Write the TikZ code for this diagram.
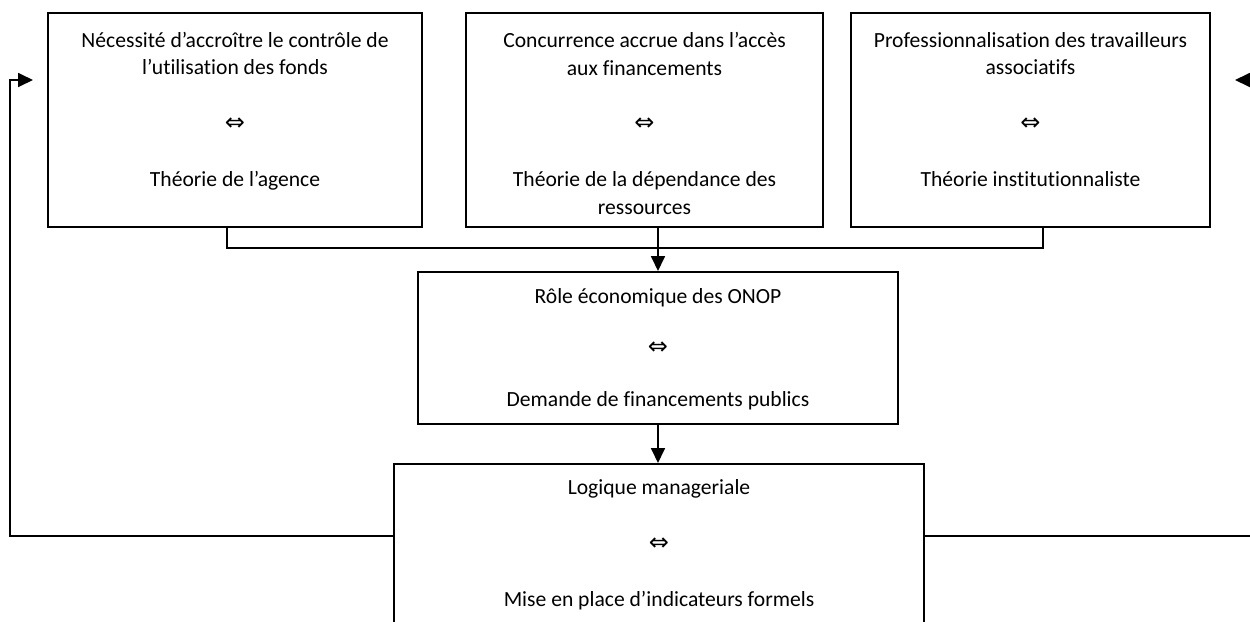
\documentclass[tikz,border=0pt]{standalone}
\usepackage{fontspec}
\setmainfont{Carlito}[Ligatures=NoCommon]
\newfontfamily\symfont{DejaVu Sans}
\usetikzlibrary{arrows.meta}
\newcommand{\eqv}{{\symfont\fontsize{12}{12}\selectfont ⇔}}
\begin{document}
\begin{tikzpicture}[x=0.5pt,y=-0.5pt,
  boxst/.style={draw,line width=1pt,inner sep=0pt,minimum height=#1},
  txt/.style={align=center,anchor=base,inner sep=0pt,font=\fontsize{10.8}{13.9}\selectfont},
  txtb/.style={align=center,anchor=base,inner sep=0pt,font=\fontsize{10.8}{12.875}\selectfont},
  conn/.style={line width=0.9pt},
  arr/.style={line width=0.9pt,-{Triangle[length=7.5pt,width=7pt]}}]
\useasboundingbox (0,0) rectangle (1250,622);
\clip (0,0) rectangle (1250,622);
% boxes
\node[boxst=107pt,minimum width=187pt] (b1) at (235,120) {};
\node[boxst=107pt,minimum width=178.5pt] (b2) at (644.5,120) {};
\node[boxst=107pt,minimum width=179.5pt] (b3) at (1030.5,120) {};
\node[boxst=76pt,minimum width=240pt] (b4) at (658,348) {};
\node[boxst=93pt,minimum width=265pt] (b5) at (659,557) {};
% texts (anchored at the baseline of their last line)
\node[txt] (t1) at (235,186) {Nécessité d’accroître le contrôle de\\l’utilisation des fonds\\[13.9pt]\eqv\\[13.9pt]Théorie de l’agence};
\node[txt] (t2) at (644.5,214) {Concurrence accrue dans l’accès\\aux financements\\[13.9pt]\eqv\\[13.9pt]Théorie de la dépendance des\\ressources};
\node[txt] (t3) at (1030.5,186) {Professionnalisation des travailleurs\\associatifs\\[13.9pt]\eqv\\[13.9pt]Théorie institutionnaliste};
\node[txtb] (t4) at (658,406) {Rôle économique des ONOP\\[12.875pt]\eqv\\[12.875pt]Demande de financements publics};
\node[txt] (t5) at (659,606) {Logique manageriale\\[13.9pt]\eqv\\[13.9pt]Mise en place d’indicateurs formels};
% connectors
\coordinate (j) at (658,248);
\coordinate (L) at (10,80);
\coordinate (lt) at (33,80);
\coordinate (R) at (1262,80);
\coordinate (rt) at (1235,80);
\draw[conn] ([xshift=-4pt]b1.south) |- (j) -| ([xshift=6.25pt]b3.south);
\draw[arr] (b2.south -| b4.north) -- (b4.north);
\draw[arr] (b4.south) -- (b4.south |- b5.north);
\draw[arr] ([yshift=10.5pt]b5.west) -| (L) -- (lt);
\draw[arr] ([yshift=10.5pt]b5.east) -| (R) -- (rt);
\end{tikzpicture}
\end{document}
